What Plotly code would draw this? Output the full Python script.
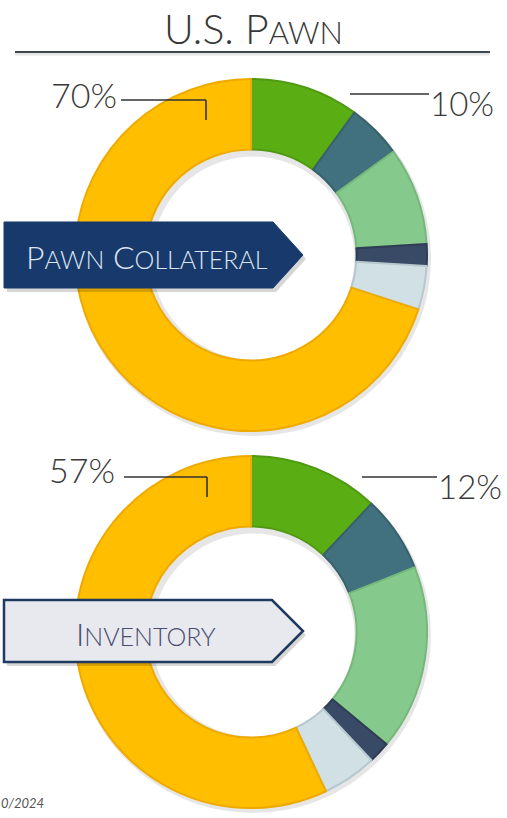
import plotly.graph_objects as go

W, H = 507, 818

# ---- data -------------------------------------------------------------
categories = ["Group 1", "Group 2", "Group 3", "Group 4", "Group 5", "Group 6"]
collateral_pct = [10, 5, 9, 2, 4, 70]
inventory_pct = [12, 7, 17, 2, 5, 57]

slice_colors = ["#5AAE14", "#41717F", "#86C98C", "#394A66", "#D0E0E5", "#FFBE00"]
edge_colors = ["#4F9A12", "#37616D", "#76B87C", "#2F3D55", "#B6C8CE", "#EFAA00"]

title_main, title_small = "U.S. P", "AWN"
banner_top = [("P", "AWN"), ("C", "OLLATERAL")]
banner_bottom = [("I", "NVENTORY")]
footer_text = "0/2024"

FONT = "Lato"


def px(x):
    return x / W


def py(y):
    return 1 - y / H


def donut(values, cx, cy, r):
    return go.Pie(
        labels=categories, values=values, hole=0.6, sort=False,
        direction="clockwise", rotation=0,
        marker=dict(colors=slice_colors, line=dict(color=edge_colors, width=2)),
        textinfo="none", hoverinfo="label+percent", showlegend=False,
        domain=dict(x=[px(cx - r), px(cx + r)], y=[py(cy + r), py(cy - r)]),
    )


def shadow(cx, cy, r):
    return go.Pie(
        values=[1], hole=0.57, sort=False, textinfo="none", hoverinfo="skip",
        marker=dict(colors=["rgba(60,60,60,0.13)"], line=dict(width=0)),
        showlegend=False,
        domain=dict(x=[px(cx - r), px(cx + r)], y=[py(cy + r), py(cy - r)]),
    )


TOP_C = (251, 255)
BOT_C = (251, 632)
R = 176

fig = go.Figure()
fig.add_trace(shadow(TOP_C[0] + 2, TOP_C[1] + 3, R + 2))
fig.add_trace(donut(collateral_pct, TOP_C[0], TOP_C[1], R))
fig.add_trace(shadow(BOT_C[0] + 2, BOT_C[1] + 3, R + 2))
fig.add_trace(donut(inventory_pct, BOT_C[0], BOT_C[1], R))


def poly(points):
    d = "M " + " L ".join(f"{px(x):.5f},{py(y):.5f}" for x, y in points) + " Z"
    return d


def line(x0, y0, x1, y1, color="#333333", width=1.6):
    return dict(type="line", xref="paper", yref="paper", layer="above",
                x0=px(x0), y0=py(y0), x1=px(x1), y1=py(y1),
                line=dict(color=color, width=width))


shapes = []
# title rule with soft shadow
shapes.append(line(15, 54, 490, 54, color="rgba(0,0,0,0.10)", width=3))
shapes.append(line(15, 52, 490, 52, color="#3E4652", width=1.8))

# leader lines
shapes.append(line(121, 100, 206, 100))
shapes.append(line(206, 100, 206, 120))
shapes.append(line(350, 94, 429, 94))
shapes.append(line(124, 477, 207, 477))
shapes.append(line(207, 477, 207, 497))
shapes.append(line(362, 477, 437, 477))

# arrow banners
top_arrow = [(4, 222), (273, 222), (303, 255), (273, 288), (4, 288)]
bot_arrow = [(4, 600), (272, 600), (303, 631), (272, 662), (4, 662)]
for pts in (top_arrow, bot_arrow):
    shapes.append(dict(type="path", xref="paper", yref="paper", layer="above",
                       path=poly([(x + 3, y + 4) for x, y in pts]),
                       fillcolor="rgba(0,0,0,0.16)", line=dict(width=0)))
shapes.append(dict(type="path", xref="paper", yref="paper", layer="above",
                   path=poly(top_arrow), fillcolor="#17396B",
                   line=dict(color="#17396B", width=1)))
shapes.append(dict(type="path", xref="paper", yref="paper", layer="above",
                   path=poly(bot_arrow), fillcolor="#E8E9EE",
                   line=dict(color="#1E3A60", width=2.5)))


def small_caps(parts, small):
    return " ".join(f"{a}<span style='font-size:{small}px'>{b}</span>" for a, b in parts)


def note(text, x, y, size, color, xanchor="center", weight=300, italic=False):
    return dict(text=text, x=px(x), y=py(y), xref="paper", yref="paper",
                xanchor=xanchor, yanchor="middle", showarrow=False,
                font=dict(family=FONT, size=size, color=color, weight=weight,
                          style="italic" if italic else "normal"))


annotations = [
    note(f"{title_main}<span style='font-size:31px'>{title_small}</span>",
         253, 28, 41, "#383838"),
    note(f"{collateral_pct[-1]}%", 84, 94, 34, "#3A3A3A"),
    note(f"{collateral_pct[0]}%", 462, 103, 33, "#3A3A3A"),
    note(f"{inventory_pct[-1]}%", 82, 469, 34, "#3A3A3A"),
    note(f"{inventory_pct[0]}%", 470, 486, 33, "#3A3A3A"),
    note(small_caps(banner_top, 25), 147, 256, 32, "#DCE5EF"),
    note(small_caps(banner_bottom, 25), 146, 633, 32, "#4A4D70"),
    note(f"<i>{footer_text}</i>", -1, 803, 13, "#555555", xanchor="left", weight=400),
]

fig.update_layout(
    width=W, height=H,
    margin=dict(l=0, r=0, t=0, b=0),
    paper_bgcolor="white", plot_bgcolor="white",
    shapes=shapes, annotations=annotations,
)

fig.write_html("out.html")
